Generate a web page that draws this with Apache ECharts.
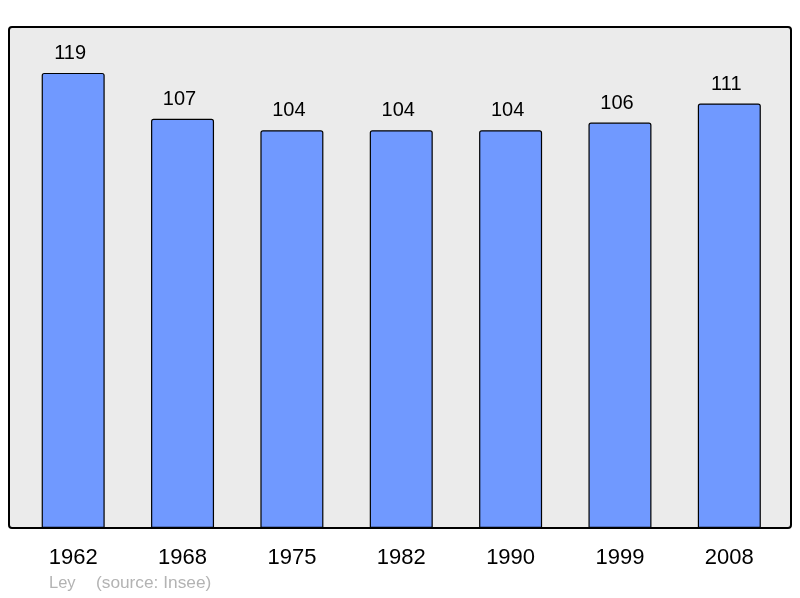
<!DOCTYPE html>
<html><head><meta charset="utf-8">
<script src="https://cdn.jsdelivr.net/npm/echarts@6/dist/echarts.min.js"></script>
<style>html,body{margin:0;padding:0;background:#fff}#c{width:800px;height:598px}</style>
</head><body><div id="c"></div>
<script>
const years = ['1962','1968','1975','1982','1990','1999','2008'];
const population = [119,107,104,104,104,106,111];
const communeName = 'Ley';
const sourceText = '(source: Insee)';

const chart = echarts.init(document.getElementById('c'), null, {renderer:'canvas'});
chart.setOption({
  animation:false,
  backgroundColor:'#ffffff',
  graphic:[
    {type:'rect', z:-10, shape:{x:9,y:27,width:782,height:501,r:3},
     style:{fill:'#ebebeb', stroke:'#000', lineWidth:2}},
    {type:'text', left:49, top:575, style:{text:communeName, fill:'#b3b3b3', font:'16.5px "Liberation Sans", Arial, sans-serif'}},
    {type:'text', left:96, top:574.5, style:{text:sourceText, fill:'#b3b3b3', font:'17.3px "Liberation Sans", Arial, sans-serif'}}
  ],
  grid:{left:18.5, right:16, top:27, bottom:70},
  xAxis:{type:'category', data:years,
    axisLine:{show:false}, axisTick:{show:false},
    axisLabel:{color:'#000', fontSize:22, fontFamily:'Liberation Sans, Arial, sans-serif', margin:19}},
  yAxis:{type:'value', min:0, max:131, show:false, splitLine:{show:false}},
  series:[{type:'bar', data:population, barWidth:63,
    itemStyle:{color:'#7099ff', borderColor:'#000', borderWidth:1.2, borderRadius:[2,2,0,0]},
    label:{show:true, position:'top', distance:9.5, offset:[-3,0], color:'#000', fontSize:20, fontFamily:'Liberation Sans, Arial, sans-serif'}}]
});
</script></body></html>
